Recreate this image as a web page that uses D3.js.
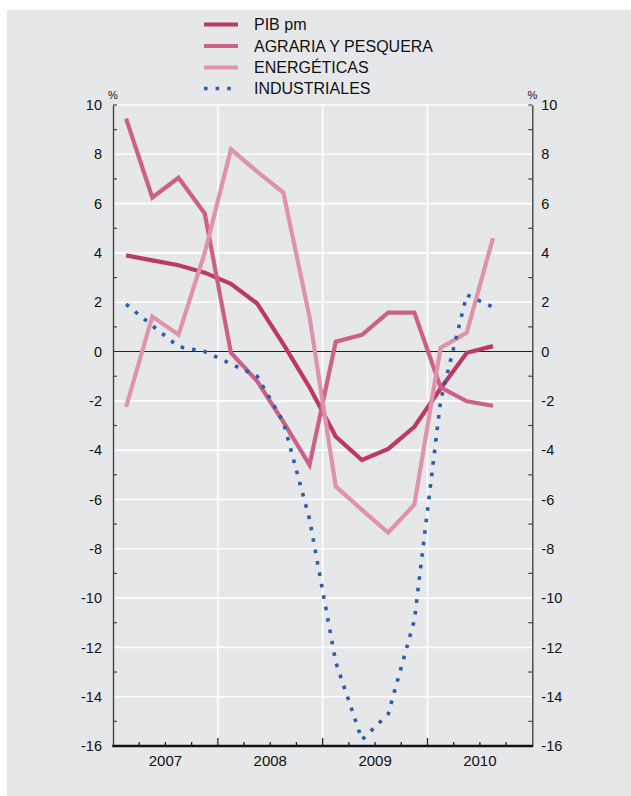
<!DOCTYPE html>
<html><head><meta charset="utf-8">
<script src="https://cdn.jsdelivr.net/npm/d3@7"></script>
<style>
html,body{margin:0;padding:0;background:#fff;}
svg{display:block;}
text{font-family:"Liberation Sans",Arial,Helvetica,sans-serif;fill:#111;}
</style></head>
<body>
<svg id="chart" width="631" height="796"></svg>
<script>
// ---- data ----
const years = ["2007","2008","2009","2010"];
const quarters = d3.range(16); // 2007Q1 .. 2010Q4
const seriesNames = ["PIB pm","AGRARIA Y PESQUERA","ENERGÉTICAS","INDUSTRIALES"];
const pib        = [3.9, 3.7, 3.5, 3.2, 2.75, 1.95, 0.3, -1.45, -3.45, -4.4, -3.95, -3.05, -1.5, -0.05, 0.22];
const agraria    = [9.45, 6.25, 7.05, 5.6, -0.05, -1.2, -2.85, -4.6, 0.4, 0.68, 1.58, 1.58, -1.45, -2.02, -2.2];
const energeticas= [-2.25, 1.42, 0.68, 4.0, 8.2, 7.3, 6.45, 1.4, -5.47, -6.42, -7.34, -6.21, 0.15, 0.77, 4.6];
const industriales=[1.92, 1.05, 0.2, 0.0, -0.5, -1.0, -2.85, -6.8, -12.6, -15.75, -14.7, -10.9, -2.0, 2.3, 1.8];
const yTicks = [10, 8, 6, 4, 2, 0, -2, -4, -6, -8, -10, -12, -14, -16];

const colors = ["#bc3a62", "#cc6186", "#de93ab", "#2b5eab"];

// ---- layout ----
const svg = d3.select("#chart");
const L = 113, R = 532.3, T = 105, B = 746;

svg.append("rect").attr("x",7).attr("y",10).attr("width",624).attr("height",786).attr("fill","#e6e7e8");

const x = d3.scaleLinear().domain([0,16]).range([L,R]);
const y = d3.scaleLinear().domain([-16,10]).range([B,T]);
const fmt = d => String(d); // plain hyphen-minus as in the reference

// horizontal white gridlines at even values
svg.append("g").selectAll("line").data(yTicks.filter(v=>v!==0 && v!==-16)).join("line")
  .attr("x1",L).attr("x2",R).attr("y1",d=>y(d)).attr("y2",d=>y(d))
  .attr("stroke","#fff").attr("stroke-width",1.6);
// vertical white gridlines at year boundaries
svg.append("g").selectAll("line").data([4,8,12]).join("line")
  .attr("x1",d=>x(d)).attr("x2",d=>x(d)).attr("y1",T).attr("y2",B)
  .attr("stroke","#fff").attr("stroke-width",1.6);

// zero line
svg.append("line").attr("x1",L).attr("x2",R).attr("y1",y(0)).attr("y2",y(0))
  .attr("stroke","#222").attr("stroke-width",1.1);

// left/right axes
const leftAxis = d3.axisLeft(y).tickValues(yTicks).tickSize(0).tickPadding(11).tickFormat(fmt);
const rightAxis = d3.axisRight(y).tickValues(yTicks).tickSize(0).tickPadding(9).tickFormat(fmt);
const gl = svg.append("g").attr("transform",`translate(${L},0)`).call(leftAxis);
const gr = svg.append("g").attr("transform",`translate(${R},0)`).call(rightAxis);
[gl,gr].forEach(g=>{
  g.select(".domain").attr("stroke","#444").attr("stroke-width",1.4);
  g.selectAll("text").attr("font-size",14.5).attr("fill","#111")
   .style("font-family","'Liberation Sans',Arial,sans-serif");
});
// minor inward ticks at odd values and top
const minor = d3.range(-15, 10, 2).concat([10]);
svg.append("g").selectAll("line").data(minor).join("line")
  .attr("x1",L).attr("x2",L+4).attr("y1",d=>y(d)).attr("y2",d=>y(d))
  .attr("stroke","#444").attr("stroke-width",1.2);
svg.append("g").selectAll("line").data(minor).join("line")
  .attr("x1",R-4).attr("x2",R).attr("y1",d=>y(d)).attr("y2",d=>y(d))
  .attr("stroke","#444").attr("stroke-width",1.2);

// % labels
svg.append("text").attr("x",L).attr("y",99).attr("text-anchor","middle").attr("font-size",11).text("%");
svg.append("text").attr("x",R).attr("y",99).attr("text-anchor","middle").attr("font-size",11).text("%");

// bottom axis
const bottom = svg.append("g").attr("transform",`translate(0,${B})`);
bottom.append("g").selectAll("line").data(d3.range(1,16)).join("line")
  .attr("x1",d=>x(d)).attr("x2",d=>x(d)).attr("y1",0).attr("y2",d=>d%4===0?-8:-4)
  .attr("stroke","#222").attr("stroke-width",1.3);
bottom.append("line").attr("x1",L-0.7).attr("x2",R+0.7).attr("y1",0).attr("y2",0)
  .attr("stroke","#111").attr("stroke-width",2.4);
bottom.append("g").selectAll("text").data(years).join("text")
  .attr("x",(d,i)=>x(i*4+2)).attr("y",20).attr("text-anchor","middle")
  .attr("font-size",15).text(d=>d);

// series lines
const line = d3.line().x((d,i)=>x(i+0.5)).y(d=>y(d));
const allSeries = [pib, agraria, energeticas, industriales];
allSeries.forEach((s,k)=>{
  const p = svg.append("path").datum(s).attr("d",line).attr("fill","none")
    .attr("stroke",colors[k]).attr("stroke-linejoin","miter");
  if(k===3){
    p.attr("stroke-width",3.6).attr("stroke-dasharray","3.6,8");
  } else {
    p.attr("stroke-width",4.2);
  }
});

// legend
const leg = svg.append("g");
const rowsY = [24.5, 46, 67.5, 88.5];
seriesNames.forEach((n,k)=>{
  const l = leg.append("line").attr("x1",204).attr("x2",238).attr("y1",rowsY[k]).attr("y2",rowsY[k])
    .attr("stroke",colors[k]);
  if(k===3){ l.attr("stroke-width",3.6).attr("stroke-dasharray","3.6,8"); }
  else { l.attr("stroke-width",4.2); }
  leg.append("text").attr("x",254).attr("y",rowsY[k]+5.5).attr("font-size",16).text(n);
});
</script>
</body></html>
